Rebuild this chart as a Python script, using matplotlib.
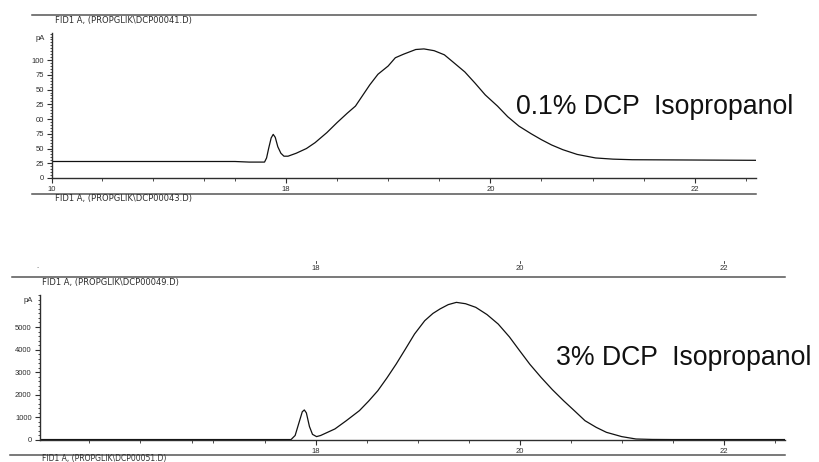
import numpy as np
import matplotlib
matplotlib.use("Agg")
import matplotlib.pyplot as plt
from matplotlib.lines import Line2D
import matplotlib.transforms as mtransforms

# --- data ------------------------------------------------------------------
# top trace: 0.1% DCP in isopropanol (time in min, signal in pA)
t_top = [15.71, 17.50, 17.64, 17.79, 17.81, 17.83, 17.855, 17.875, 17.895, 17.92,
         17.95, 17.98, 18.02, 18.1, 18.2, 18.285, 18.4, 18.5, 18.6, 18.68,
         18.75, 18.82, 18.9, 19.0, 19.07, 19.15, 19.27, 19.35, 19.45, 19.55,
         19.64, 19.75, 19.85, 19.95, 20.07, 20.17, 20.28, 20.4, 20.5, 20.6,
         20.71, 20.85, 21.03, 21.2, 21.39, 22.60]
s_top = [28, 28, 27, 27, 34, 50, 68, 74, 69, 53,
         42, 37, 37, 42, 50, 60, 77, 94, 110, 122,
         140, 158, 176, 190, 204, 210, 218, 219, 216, 209,
         196, 180, 161, 141, 122, 104, 88, 75, 65, 56,
         48, 40, 34, 32, 31, 30]

# bottom trace: 3% DCP in isopropanol
t_bot = [15.30, 17.37, 17.76, 17.80, 17.84, 17.87, 17.89, 17.91, 17.94, 17.97,
         18.01, 18.05, 18.19, 18.3, 18.43, 18.52, 18.61, 18.7, 18.79, 18.88,
         18.97, 19.07, 19.15, 19.22, 19.3, 19.38, 19.47, 19.57, 19.68, 19.79,
         19.9, 20.0, 20.1, 20.21, 20.32, 20.43, 20.54, 20.64, 20.75, 20.85,
         21.0, 21.14, 21.3, 21.49, 22.60]
s_bot = [20, 20, 20, 200, 800, 1250, 1330, 1200, 600, 250,
         150, 200, 490, 850, 1300, 1720, 2180, 2750, 3360, 4020,
         4690, 5280, 5600, 5800, 5990, 6090, 6030, 5870, 5550, 5130,
         4560, 3950, 3350, 2770, 2230, 1740, 1280, 855, 560, 340,
         150, 44, 25, 20, 20]

top_yticks = [0, 25, 50, 75, 100, 125, 150, 175, 200]
top_yticklabels = ["0", "25", "50", "75", "00", "25", "50", "75", "100"]
top_xticks = [15.71, 18, 20, 22]
top_xticklabels = ["10", "18", "20", "22"]
top_xminor = [16.2, 16.7, 17.2, 17.5, 18.5, 19.0, 19.5, 20.5, 21.0, 21.5, 22.5]

bot_yticks = [0, 1000, 2000, 3000, 4000, 5000]
bot_xticks = [18, 20, 22]
bot_xticklabels = ["18", "20", "22"]
bot_xminor = [15.78, 16.28, 16.79, 17.0, 17.5, 18.5, 19.0, 19.5, 20.5, 21.0, 21.5, 22.5]

headers = ["FID1 A, (PROPGLIK\\DCP00041.D)", "FID1 A, (PROPGLIK\\DCP00043.D)",
           "FID1 A, (PROPGLIK\\DCP00049.D)", "FID1 A, (PROPGLIK\\DCP00051.D)"]

W, H = 819, 462
plt.rcParams['font.family'] = ['Liberation Sans', 'DejaVu Sans']
fig = plt.figure(figsize=(W / 100, H / 100), dpi=100)


def fx(x):
    return x / W


def fy(y):
    return 1 - y / H


grey = "#2e2e2e"
small = 5.5

# axes
ax1 = fig.add_axes([fx(52), fy(178), fx(756) - fx(52), fy(33) - fy(178)])
ax2 = fig.add_axes([fx(40), fy(440), fx(785) - fx(40), fy(295) - fy(440)])

ax1.plot(t_top, s_top, color="#111111", lw=0.9)
ax1.set_xlim(15.71, 22.6)
ax1.set_ylim(0, 246)
ax1.set_yticks(top_yticks, top_yticklabels)
ax1.set_yticks(np.arange(0, 246, 5), minor=True)
ax1.set_xticks(top_xticks, top_xticklabels)
ax1.set_xticks(top_xminor, minor=True)

ax2.plot(t_bot, s_bot, color="#111111", lw=0.9)
ax2.set_xlim(15.3, 22.6)
ax2.set_ylim(0, 6416)
ax2.set_yticks(bot_yticks, [str(v) for v in bot_yticks])
ax2.set_yticks(np.arange(0, 6416, 200), minor=True)
ax2.set_xticks(bot_xticks, bot_xticklabels)
ax2.set_xticks(bot_xminor, minor=True)

for ax in (ax1, ax2):
    ax.patch.set_alpha(0)
    for s in ("top", "right"):
        ax.spines[s].set_visible(False)
    for s in ("left", "bottom"):
        ax.spines[s].set_color(grey)
        ax.spines[s].set_linewidth(1.0)
    ax.tick_params(which="major", length=3.5, width=0.8, color=grey,
                   labelsize=small, labelcolor=grey, pad=2.5)
    ax.tick_params(which="minor", length=1.8, width=0.6, color=grey)
    ax.tick_params(axis="y", which="both", direction="out")

# horizontal rules between the chromatogram blocks
rules = [(15, 32, 756), (194, 32, 756), (277, 12, 785), (455, 10, 785)]
for y, x0, x1 in rules:
    fig.add_artist(Line2D([fx(x0), fx(x1)], [fy(y), fy(y)], color="#555555", lw=1.1))

hdr = dict(fontsize=6, color=grey, va="center", family="DejaVu Sans")
fig.text(fx(55), fy(20), headers[0], **hdr)
fig.text(fx(55), fy(199), headers[1], **hdr)
fig.text(fx(42), fy(282), headers[2], **hdr)
fig.text(fx(42), fy(459), headers[3], fontsize=5.5, color=grey, va="center",
         family="DejaVu Sans")

fig.text(fx(45), fy(38), "pA", fontsize=small, color=grey, ha="right", va="center")
fig.text(fx(33), fy(300), "pA", fontsize=small, color=grey, ha="right", va="center")

# leftover axis labels of the hidden block between the two traces
blend = mtransforms.blended_transform_factory(ax2.transData, fig.transFigure)
for xv, lab in zip(bot_xticks, bot_xticklabels):
    fig.text(xv, fy(268), lab, transform=blend, fontsize=small, color=grey,
             ha="center", va="center")
    fig.add_artist(Line2D([xv, xv], [fy(261), fy(263)], transform=blend,
                          color=grey, lw=0.6))
fig.text(fx(37), fy(266), ".", fontsize=small, color=grey, ha="center", va="center")

fig.text(fx(516), fy(107), "0.1% DCP  Isopropanol", fontsize=19.2, color="#111111",
         va="center")
fig.text(fx(556), fy(358), "3% DCP  Isopropanol", fontsize=19.2, color="#111111",
         va="center")

fig.savefig("out.png", dpi=100)
